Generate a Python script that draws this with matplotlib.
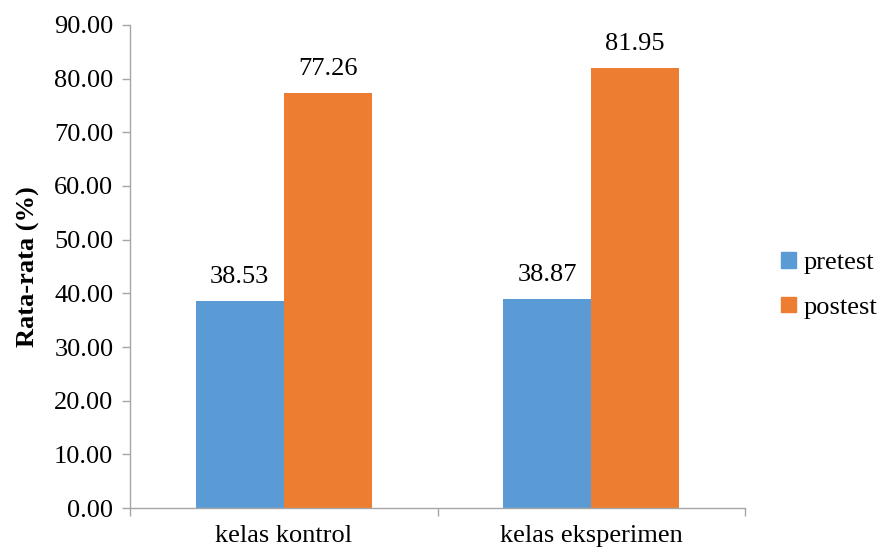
import numpy as np
import matplotlib.pyplot as plt
from matplotlib.patches import Patch

plt.rcParams['font.family'] = ['Liberation Serif', 'DejaVu Serif']

groups = ['kelas kontrol', 'kelas eksperimen']
series = ['pretest', 'postest']
pretest = [38.53, 38.87]
postest = [77.26, 81.95]
colors = ['#5B9BD5', '#ED7D31']

fig = plt.figure(figsize=(8.82, 5.54), dpi=100)
ax = fig.add_axes([0.1474, 0.083, 0.6973, 0.8719])

x = np.arange(len(groups))
w = 0.286
fs = 19
for vals, off, c in [(pretest, -w / 2, colors[0]), (postest, w / 2, colors[1])]:
    bars = ax.bar(x + off, vals, width=w, color=c, zorder=2)
    for b, v in zip(bars, vals):
        ax.text(b.get_x() + b.get_width() / 2, v + 2.5, f'{v:.2f}',
                ha='center', va='bottom', fontsize=fs)

ax.set_xlim(-0.5, 1.5)
ax.set_ylim(0, 90)
ax.set_yticks(np.arange(0, 91, 10))
ax.set_yticklabels([f'{t:.2f}' for t in np.arange(0, 91, 10)], fontsize=fs)
ax.set_xticks([-0.5, 0.5, 1.5])
ax.set_xticklabels([])
ax.set_xticks(x, minor=True)
ax.set_xticklabels(groups, minor=True, fontsize=fs)
ax.tick_params(axis='x', which='minor', length=0, pad=12)
ax.tick_params(axis='both', which='major', length=6, width=1, color='#A6A6A6')
ax.tick_params(axis='y', pad=6)

for s in ['top', 'right']:
    ax.spines[s].set_visible(False)
for s in ['left', 'bottom']:
    ax.spines[s].set_color('#A6A6A6')
    ax.spines[s].set_linewidth(1)

ax.set_ylabel('Rata-rata (%)', fontsize=fs, fontweight='bold', labelpad=10)

handles = [Patch(color=c, label=s) for s, c in zip(series, colors)]
fig.legend(handles=handles, loc='center left', bbox_to_anchor=(0.874, 0.485),
           frameon=False, fontsize=fs, handlelength=0.55, handleheight=0.55,
           handletextpad=0.3, labelspacing=0.85, borderaxespad=0)

fig.savefig('out.png', dpi=100)
